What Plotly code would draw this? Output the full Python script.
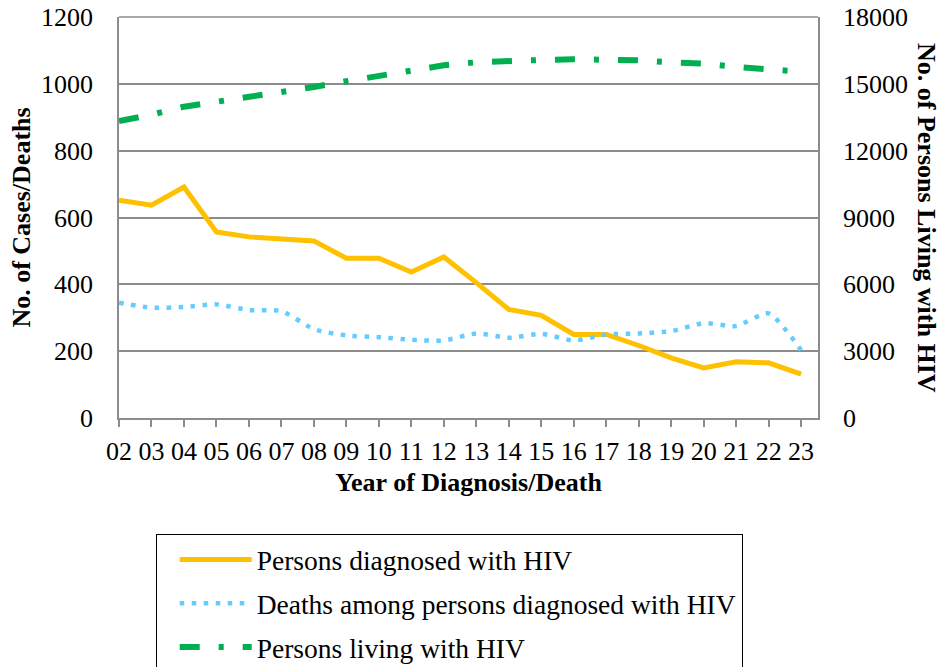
import plotly.graph_objects as go

years = ["02", "03", "04", "05", "06", "07", "08", "09", "10", "11", "12",
         "13", "14", "15", "16", "17", "18", "19", "20", "21", "22", "23"]
diagnosed = [652, 637, 691, 557, 542, 535, 530, 478, 478, 437, 482,
             405, 325, 307, 250, 250, 217, 180, 150, 168, 165, 131]
deaths = [345, 330, 332, 340, 323, 320, 266, 247, 242, 234, 232,
          253, 240, 252, 232, 250, 253, 260, 284, 275, 313, 203]
living = [13330, 13615, 13975, 14185, 14396, 14620, 14859, 15114, 15338, 15548, 15832,
          15966, 16040, 16071, 16101, 16086, 16056, 15966, 15906, 15757, 15622, 15548]

left_ticks = [0, 200, 400, 600, 800, 1000, 1200]
right_ticks = [0, 3000, 6000, 9000, 12000, 15000, 18000]
right_labels = ["0", "3000", "6000", "9000", "12000", "15000", "18000"]

xs = list(range(len(years)))
FONT = "Liberation Serif"
GRID = "#8c8c8c"
FS = 26

W, H = 943, 667
L, R, T, B = 119, 125, 17, 249
PW = W - L - R
PH = H - T - B

fig = go.Figure()
fig.add_trace(go.Scatter(
    x=xs, y=diagnosed, mode="lines", name="Persons diagnosed with HIV",
    line=dict(color="#FFC000", width=5), legendgroup="a"))
fig.add_trace(go.Scatter(
    x=xs, y=deaths, mode="lines", name="Deaths among persons diagnosed with HIV",
    line=dict(color="#66CCFF", width=4.5, dash="4.5px,7.5px", shape="spline", smoothing=0.6),
    legendgroup="b"))
fig.add_trace(go.Scatter(
    x=xs, y=living, mode="lines", name="Persons living with HIV", yaxis="y2",
    line=dict(color="#00B050", width=6, dash="20px,19px,5px,19px"), legendgroup="c"))

fig.update_layout(
    width=W, height=H,
    margin=dict(l=L, r=R, t=T, b=B, autoexpand=False),
    paper_bgcolor="white", plot_bgcolor="white",
    font=dict(family=FONT, size=FS, color="black"),
    showlegend=True,
    legend=dict(
        x=(155.7 - L) / PW, y=(T + PH - 534.2) / PH, xanchor="left", yanchor="top",
        bordercolor="black", borderwidth=1, bgcolor="white",
        font=dict(family=FONT, size=27.5, color="black"),
        tracegroupgap=5, itemwidth=72, indentation=18, traceorder="grouped",
    ),
    xaxis=dict(
        range=[0, 21.52], tickvals=xs, ticktext=years,
        showline=True, linecolor=GRID, linewidth=1.5, mirror=False,
        ticks="outside", ticklen=7, tickcolor=GRID, tickwidth=1.5,
        showgrid=False, zeroline=False, automargin=False, ticklabelstandoff=2,
        title=dict(text="<b>Year of Diagnosis/Death</b>", font=dict(size=FS), standoff=8),
    ),
    yaxis=dict(
        range=[0, 1200], tickvals=left_ticks,
        showline=True, linecolor=GRID, linewidth=1.5,
        showgrid=True, gridcolor=GRID, gridwidth=1.5, zeroline=False,
        ticks="", ticklabelstandoff=19, automargin=False, ticklabeloverflow="allow",
        title=dict(text="<b>No. of Cases/Deaths</b>", font=dict(size=FS), standoff=3),
    ),
    yaxis2=dict(
        range=[0, 18000], tickvals=right_ticks, ticktext=right_labels,
        overlaying="y", side="right", automargin=False, ticklabeloverflow="allow",
        showline=True, linecolor=GRID, linewidth=1.5,
        showgrid=False, zeroline=False, ticks="", ticklabelstandoff=18,
    ),
    annotations=[dict(
        text="<b>No. of Persons Living with HIV</b>", textangle=90,
        xref="paper", yref="paper", x=(926.5 - L) / PW, y=0.5,
        xanchor="center", yanchor="middle", showarrow=False,
        font=dict(family=FONT, size=FS, color="black"),
    )],
    shapes=[dict(type="line", xref="paper", yref="paper", x0=0, x1=1, y0=1, y1=1,
                 line=dict(color=GRID, width=1.5))],
)

fig.write_html(
    "out.html",
    config={"displayModeBar": False},
    post_script="document.body.style.margin='0px';document.body.style.overflow='hidden';",
)
